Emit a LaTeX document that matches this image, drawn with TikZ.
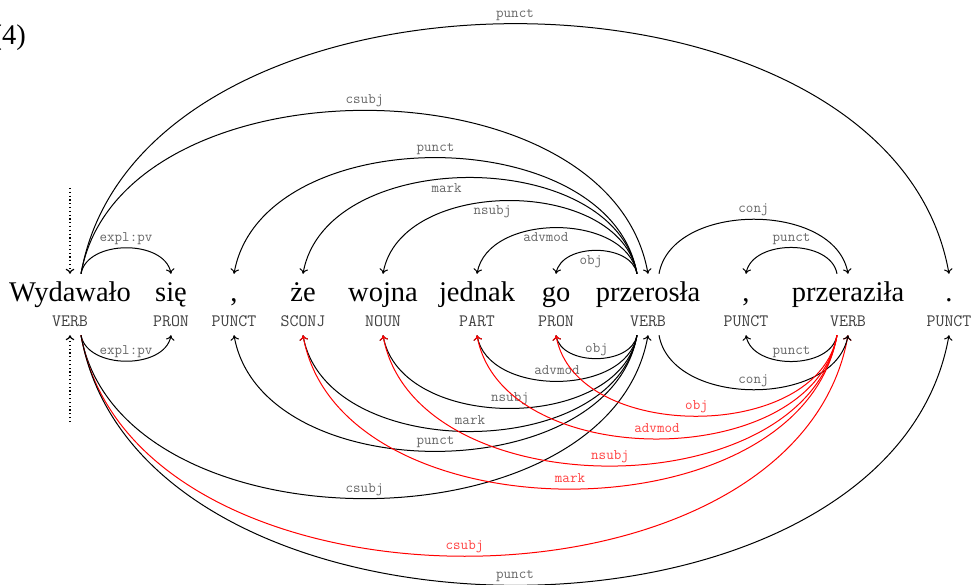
\documentclass[tikz,border=0pt]{standalone}
\usepackage{fontspec}
\setmainfont{Liberation Serif}
\usetikzlibrary{arrows.meta}

\begin{document}
\begin{tikzpicture}[x=1pt, y=1pt, >={To[length=5pt,width=8.5pt]},
    word/.style={font=\fontsize{28.5}{30}\selectfont, anchor=base, inner xsep=0pt, inner ysep=8pt, text height=20pt, text depth=7pt},
    tag/.style={font=\ttfamily\fontsize{17.4}{18}\selectfont, text=black!75, anchor=base, inner xsep=0pt, inner ysep=6pt, text height=10pt, text depth=3pt},
    deprel/.style={font=\ttfamily\fontsize{14.6}{16}\selectfont, text=black!60, inner sep=0pt, anchor=base},
    deplabel/.style={deprel, yshift=6.5pt},
    deplabelin/.style={deprel, yshift=-13.5pt},
    redlabel/.style={deplabel, text=red!75},
    dep/.style={->, line width=1pt},
    reddep/.style={dep, red},
    rootarrow/.style={->, line width=1.2pt, dash pattern=on 1.2pt off 2.6pt}]
\useasboundingbox (0,0) rectangle (973,584);

\node[word, anchor=base east] (exnum) at (26,539) {(4)};

% words
\node[word] (wydawalo) at (70,282) {Wydawało};
\node[word] (sie) at (171,282) {się};
\node[word] (comma1) at (234,282) {,};
\node[word] (ze) at (303,282) {że};
\node[word] (wojna) at (383,282) {wojna};
\node[word] (jednak) at (477,282) {jednak};
\node[word] (go) at (556,282) {go};
\node[word] (przerosla) at (648,282) {przerosła};
\node[word] (comma2) at (746,282) {,};
\node[word] (przerazila) at (848,282) {przeraziła};
\node[word] (dot) at (949,282) {.};

% tags
\node[tag] (wydawalo-t) at (70,258) {VERB};
\node[tag] (sie-t) at (171,258) {PRON};
\node[tag] (comma1-t) at (234,258) {PUNCT};
\node[tag] (ze-t) at (303,258) {SCONJ};
\node[tag] (wojna-t) at (383,258) {NOUN};
\node[tag] (jednak-t) at (477,258) {PART};
\node[tag] (go-t) at (556,258) {PRON};
\node[tag] (przerosla-t) at (648,258) {VERB};
\node[tag] (comma2-t) at (746,258) {PUNCT};
\node[tag] (przerazila-t) at (848,258) {VERB};
\node[tag] (dot-t) at (949,258) {PUNCT};

% root
\coordinate (roottop) at (70,396);
\coordinate (rootbottom) at (70,162);
\draw[rootarrow] (roottop) -- (wydawalo.north);
\draw[rootarrow] (rootbottom) -- (wydawalo-t.south);

% arcs above
\draw[dep] ([xshift=11pt]wydawalo.north) to[out=80,in=100] node[deplabel]{expl:pv} (sie.north);
\draw[dep] ([xshift=11pt]wydawalo.north) to[out=80,in=100] node[deplabel]{csubj} (przerosla.north);
\draw[dep] ([xshift=11pt]wydawalo.north) to[out=80,in=100] node[deplabel]{punct} (dot.north);
\draw[dep] ([xshift=-11pt]przerosla.north) to[out=100,in=80] node[deplabel]{punct} (comma1.north);
\draw[dep] ([xshift=-11pt]przerosla.north) to[out=100,in=80] node[deplabelin, pos=.55]{mark} (ze.north);
\draw[dep] ([xshift=-11pt]przerosla.north) to[out=100,in=80] node[deplabelin, pos=.55]{nsubj} (wojna.north);
\draw[dep] ([xshift=-11pt]przerosla.north) to[out=100,in=80] node[deplabelin, pos=.55]{advmod} (jednak.north);
\draw[dep] ([xshift=-11pt]przerosla.north) to[out=100,in=80] node[deplabelin, pos=.55]{obj} (go.north);
\draw[dep] ([xshift=11pt]przerosla.north) to[out=80,in=100] node[deplabel]{conj} (przerazila.north);
\draw[dep] ([xshift=-11pt]przerazila.north) to[out=100,in=80] node[deplabel]{punct} (comma2.north);

% arcs below
\draw[dep] ([xshift=11pt]wydawalo-t.south) to[out=-80,in=-100] node[deplabel]{expl:pv} (sie-t.south);
\draw[dep] ([xshift=11pt]wydawalo-t.south) to[out=-80,in=-100] node[deplabel]{csubj} (przerosla-t.south);
\draw[reddep] ([xshift=11pt]wydawalo-t.south) to[out=-80,in=-100] node[redlabel]{csubj} (przerazila-t.south);
\draw[dep] ([xshift=11pt]wydawalo-t.south) to[out=-80,in=-100] node[deplabel]{punct} (dot-t.south);
\draw[dep] ([xshift=-11pt]przerosla-t.south) to[out=-100,in=-80] node[deplabel]{punct} (comma1-t.south);
\draw[dep] ([xshift=-11pt]przerosla-t.south) to[out=-100,in=-80] node[deplabel]{mark} (ze-t.south);
\draw[dep] ([xshift=-11pt]przerosla-t.south) to[out=-100,in=-80] node[deplabel]{nsubj} (wojna-t.south);
\draw[dep] ([xshift=-11pt]przerosla-t.south) to[out=-100,in=-80] node[deplabel]{advmod} (jednak-t.south);
\draw[dep] ([xshift=-11pt]przerosla-t.south) to[out=-100,in=-80] node[deplabel]{obj} (go-t.south);
\draw[dep] ([xshift=11pt]przerosla-t.south) to[out=-80,in=-100] node[deplabel]{conj} (przerazila-t.south);
\draw[dep] ([xshift=-11pt]przerazila-t.south) to[out=-100,in=-80] node[deplabel]{punct} (comma2-t.south);
\draw[reddep] ([xshift=-11pt]przerazila-t.south) to[out=-100,in=-80] node[redlabel]{obj} (go-t.south);
\draw[reddep] ([xshift=-11pt]przerazila-t.south) to[out=-100,in=-80] node[redlabel]{advmod} (jednak-t.south);
\draw[reddep] ([xshift=-11pt]przerazila-t.south) to[out=-100,in=-80] node[redlabel]{nsubj} (wojna-t.south);
\draw[reddep] ([xshift=-11pt]przerazila-t.south) to[out=-100,in=-80] node[redlabel]{mark} (ze-t.south);
\end{tikzpicture}
\end{document}
